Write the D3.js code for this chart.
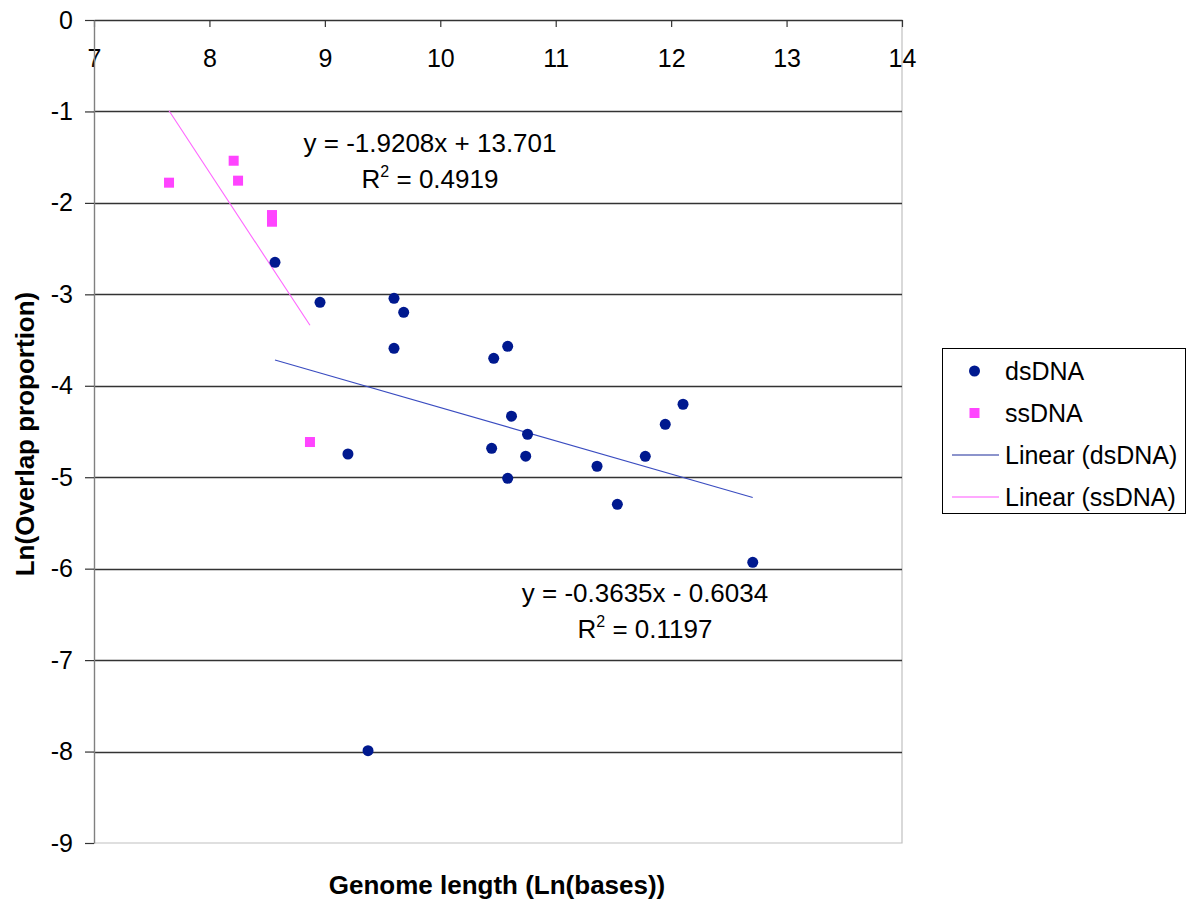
<!DOCTYPE html>
<html>
<head>
<meta charset="utf-8">
<script src="https://cdn.jsdelivr.net/npm/d3@7"></script>
<style>
    body { margin: 0; background: #fff; }
    text { font-family: "Liberation Sans", Arial, sans-serif; fill: #000; }
    .tick text { font-size: 25px; }
    .title { font-size: 26px; font-weight: bold; }
    .eq { font-size: 26px; }
    .leg { font-size: 25px; }
</style>
</head>
<body>
<div id="chart"></div>
<script>
// dsDNA points (ln genome length, ln overlap proportion)
const dsX = [8.568, 8.958, 9.599, 9.683, 9.599, 9.200, 9.374, 10.463, 10.584, 10.617,
             10.756, 10.445, 10.740, 10.584, 11.358, 11.534, 11.776, 11.949, 12.103, 12.707];
const dsY = [-2.650, -3.087, -3.044, -3.197, -3.590, -4.746, -7.990, -3.700, -3.568, -4.333,
             -4.530, -4.684, -4.770, -5.012, -4.880, -5.296, -4.771, -4.421, -4.202, -5.931];

// ssDNA points
const ssX = [7.650, 8.210, 8.248, 8.542, 8.542, 8.871];
const ssY = [-1.779, -1.539, -1.757, -2.133, -2.206, -4.615];

// trend lines: [slope, intercept, r2]
const dsFit = [-0.3635, -0.6034, 0.1197];
const ssFit = [-1.9208, 13.701, 0.4919];

const xTicks = [7, 8, 9, 10, 11, 12, 13, 14];
const yTicks = [0, -1, -2, -3, -4, -5, -6, -7, -8, -9];

const legendItems = ["dsDNA", "ssDNA", "Linear (dsDNA)", "Linear (ssDNA)"];

const W = 1189, H = 905;
const dsColor = "#00198f", ssColor = "#ff44ff";

let svg = d3.select("#chart")
    .append("svg")
    .attr("width", W)
    .attr("height", H);

let x = d3.scaleLinear().domain([7, 14]).range([94, 902]);
let y = d3.scaleLinear().domain([0, -9]).range([20, 843]);

//plot border (right + bottom)
svg.append("path")
    .attr("d", `M${x(14)},${y(0)}V${y(-9)}H${x(7)}`)
    .attr("fill", "none")
    .attr("stroke", "#c0c0c0")
    .attr("stroke-width", 1.2);

//gridlines
svg.append("g")
    .selectAll("line")
    .data(yTicks.slice(1, -1))
    .enter()
    .append("line")
    .attr("x1", x(7))
    .attr("x2", x(14))
    .attr("y1", d => Math.round(y(d)) + 0.5)
    .attr("y2", d => Math.round(y(d)) + 0.5)
    .attr("stroke", "#333")
    .attr("stroke-width", 1.4);

// plain hyphen minus, no decimals
const plain = d => String(d);

//top x axis, ticks pointing down into the plot
let xAxis = svg.append("g")
    .attr("transform", `translate(0, ${y(0)})`)
    .call(d3.axisBottom(x).tickValues(xTicks).tickFormat(plain).tickSize(7).tickPadding(22).tickSizeOuter(0));
xAxis.select(".domain").attr("stroke", "#333").attr("stroke-width", 1.4);
xAxis.selectAll(".tick line").attr("stroke", "#333").attr("stroke-width", 1.2);

//left y axis
let yAxis = svg.append("g")
    .attr("transform", `translate(${x(7)}, 0)`)
    .call(d3.axisLeft(y).tickValues(yTicks).tickFormat(plain).tickSize(9).tickPadding(12).tickSizeOuter(0));
yAxis.select(".domain").attr("stroke", "#808080").attr("stroke-width", 1.4);
yAxis.selectAll(".tick line").attr("stroke", "#333").attr("stroke-width", 1.2);
svg.selectAll(".tick text").attr("fill", "#000").style("font-size", "25px");

//trend lines over each series' x range
function trend(xs, fit, color) {
    let x0 = d3.min(xs), x1 = d3.max(xs);
    svg.append("line")
        .attr("x1", x(x0)).attr("y1", y(fit[0] * x0 + fit[1]))
        .attr("x2", x(x1)).attr("y2", y(fit[0] * x1 + fit[1]))
        .attr("stroke", color)
        .attr("stroke-width", 1.1);
}
trend(dsX, dsFit, "#3a4cc0");
trend(ssX, ssFit, "#ff66ff");

//points
svg.append("g")
    .selectAll("circle")
    .data(dsX.map((d, i) => [d, dsY[i]]))
    .enter()
    .append("circle")
    .attr("cx", d => x(d[0]))
    .attr("cy", d => y(d[1]))
    .attr("r", 5.5)
    .attr("fill", dsColor);

svg.append("g")
    .selectAll("rect")
    .data(ssX.map((d, i) => [d, ssY[i]]))
    .enter()
    .append("rect")
    .attr("x", d => x(d[0]) - 5)
    .attr("y", d => y(d[1]) - 5)
    .attr("width", 10)
    .attr("height", 10)
    .attr("fill", ssColor);

//equation labels
function fmt(v) { return v < 0 ? "- " + Math.abs(v) : "+ " + v; }
function equation(fit, cx, by) {
    svg.append("text")
        .attr("class", "eq")
        .attr("x", cx).attr("y", by)
        .attr("text-anchor", "middle")
        .text(`y = ${fit[0]}x ${fmt(fit[1])}`);
    let t = svg.append("text")
        .attr("class", "eq")
        .attr("x", cx).attr("y", by + 36)
        .attr("text-anchor", "middle");
    t.append("tspan").text("R");
    t.append("tspan").attr("dy", -11).style("font-size", "16px").text("2");
    t.append("tspan").attr("dy", 11).text(" = " + fit[2]);
}
equation(ssFit, 430, 152);
equation(dsFit, 645, 602);

//axis titles
svg.append("text")
    .attr("class", "title")
    .attr("x", 497).attr("y", 894)
    .attr("text-anchor", "middle")
    .text("Genome length (Ln(bases))");

svg.append("text")
    .attr("class", "title")
    .attr("transform", "translate(34, 434) rotate(-90)")
    .attr("text-anchor", "middle")
    .text("Ln(Overlap proportion)");

//legend
let legend = svg.append("g");
legend.append("rect")
    .attr("x", 942.5).attr("y", 348.5)
    .attr("width", 243).attr("height", 165)
    .attr("fill", "#fff")
    .attr("stroke", "#000")
    .attr("stroke-width", 1);

let rowY = d3.scaleLinear().domain([0, 3]).range([371, 497]);
legendItems.forEach((name, i) => {
    let cy = rowY(i);
    if (i === 0) {
        legend.append("circle").attr("cx", 974.5).attr("cy", cy).attr("r", 5.5).attr("fill", dsColor);
    } else if (i === 1) {
        legend.append("rect").attr("x", 969.5).attr("y", cy - 5).attr("width", 10).attr("height", 10).attr("fill", ssColor);
    } else {
        legend.append("line")
            .attr("x1", 952).attr("x2", 999)
            .attr("y1", cy).attr("y2", cy)
            .attr("stroke", i === 2 ? "#1a2a9a" : "#ff55ff")
            .attr("stroke-width", 1.2);
    }
    legend.append("text")
        .attr("class", "leg")
        .attr("x", 1005).attr("y", cy + 9)
        .text(name);
});
</script>
</body>
</html>
